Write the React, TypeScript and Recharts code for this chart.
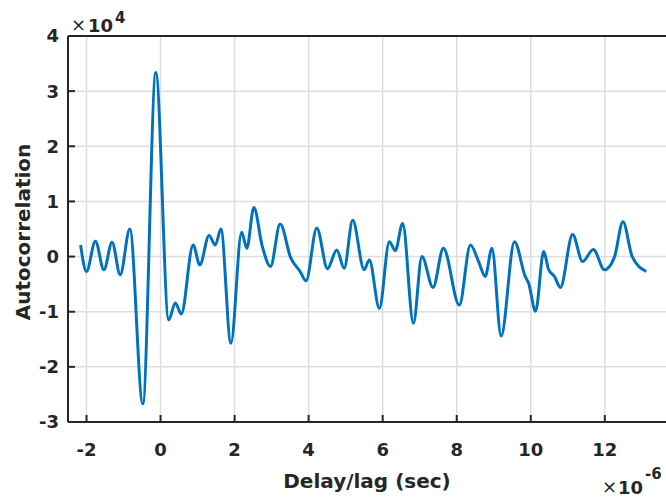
import { LineChart, Line, XAxis, YAxis, CartesianGrid } from "recharts";

// lag in microseconds, autocorrelation in units of 1e4
const delay = [
  -2.16, -2.0, -1.76, -1.53, -1.31, -1.09, -0.83, -0.48, -0.127, 0.22, 0.4, 0.56, 0.88, 1.06, 1.31,
  1.48, 1.63, 1.9, 2.19, 2.33, 2.52, 2.75, 2.97, 3.23, 3.52, 3.77, 3.93, 4.22, 4.51, 4.76, 4.96,
  5.19, 5.5, 5.64, 5.91, 6.18, 6.34, 6.54, 6.83, 7.06, 7.36, 7.64, 8.07, 8.37, 8.59, 8.77, 8.95,
  9.2, 9.56, 9.85, 9.94, 10.13, 10.35, 10.48, 10.64, 10.8, 11.13, 11.4, 11.69, 11.99, 12.26, 12.49,
  12.74, 13.12,
];
const autocorr = [
  0.21, -0.27, 0.28, -0.24, 0.26, -0.33, 0.5, -2.67, 3.34, -1.15, -0.84, -1.04, 0.21, -0.15, 0.38,
  0.21, 0.5, -1.57, 0.44, 0.15, 0.89, 0.18, -0.18, 0.59, -0.03, -0.27, -0.44, 0.52, -0.22, 0.12, -0.21,
  0.66, -0.24, -0.06, -0.94, 0.27, 0.11, 0.6, -1.21, 0.0, -0.56, 0.15, -0.88, 0.21, -0.09, -0.36, 0.15,
  -1.44, 0.27, -0.36, -0.48, -0.99, 0.09, -0.23, -0.36, -0.56, 0.4, -0.09, 0.13, -0.24, -0.01, 0.63,
  0.0, -0.27,
];
const xTicks = [-2, 0, 2, 4, 6, 8, 10, 12];
const yTicks = [-3, -2, -1, 0, 1, 2, 3, 4];

const data = delay.map((d, i) => ({ delay: d, value: autocorr[i] }));

const AXIS = "#262626";
const FONT = "DejaVu Sans";
const tickFont = { fontSize: 18, fontWeight: "bold", fill: AXIS, fontFamily: FONT };

function XTitle() {
  return (
    <g fontFamily={FONT} fill={AXIS}>
      <text x={367} y={488} textAnchor="middle" fontSize={20} fontWeight="bold">
        Delay/lag (sec)
      </text>
      <text x={602} y={493} fontSize={18}>×</text>
      <text x={618} y={494} fontSize={18} fontWeight="bold">10</text>
      <text x={645} y={479} fontSize={15} fontWeight="bold">-6</text>
    </g>
  );
}

function YTitle() {
  return (
    <g fontFamily={FONT} fill={AXIS}>
      <text
        x={30}
        y={232}
        textAnchor="middle"
        fontSize={20}
        fontWeight="bold"
        transform="rotate(-90 30 232)"
      >
        Autocorrelation
      </text>
      <text x={71} y={31} fontSize={18}>×</text>
      <text x={88} y={32} fontSize={18} fontWeight="bold">10</text>
      <text x={115} y={23} fontSize={15} fontWeight="bold">4</text>
    </g>
  );
}

export default function App() {
  return (
    <div
      style={{
        position: "absolute",
        left: 0,
        top: 0,
        width: 666,
        height: 497,
        overflow: "hidden",
        background: "#fff",
      }}
    >
      <LineChart width={680} height={497} data={data} margin={{ top: 35, right: 12, left: 0, bottom: 0 }}>
        <CartesianGrid stroke="#dedede" strokeWidth={1.5} verticalPoints={undefined} />
        <XAxis
          dataKey="delay"
          type="number"
          domain={[-2.5, 13.68]}
          ticks={xTicks}
          allowDataOverflow
          height={75}
          tickSize={-7}
          tickMargin={28}
          tick={tickFont}
          stroke={AXIS}
          strokeWidth={2}
          label={XTitle}
        />
        <XAxis
          xAxisId="top"
          orientation="top"
          dataKey="delay"
          type="number"
          domain={[-2.5, 13.68]}
          ticks={xTicks}
          allowDataOverflow
          height={1}
          tickSize={-7}
          tick={false}
          stroke={AXIS}
          strokeWidth={2}
        />
        <YAxis
          type="number"
          domain={[-3, 4]}
          ticks={yTicks}
          width={68}
          tickSize={-7}
          tickMargin={16}
          tick={tickFont}
          stroke={AXIS}
          strokeWidth={2}
          label={YTitle}
        />
        <YAxis
          yAxisId="right"
          orientation="right"
          type="number"
          domain={[-3, 4]}
          ticks={yTicks}
          width={1}
          tickSize={-7}
          tick={false}
          stroke={AXIS}
          strokeWidth={2}
        />
        <Line
          type="monotone"
          dataKey="value"
          stroke="#0072BD"
          strokeWidth={3}
          dot={false}
          activeDot={false}
          isAnimationActive={false}
        />
      </LineChart>
    </div>
  );
}
